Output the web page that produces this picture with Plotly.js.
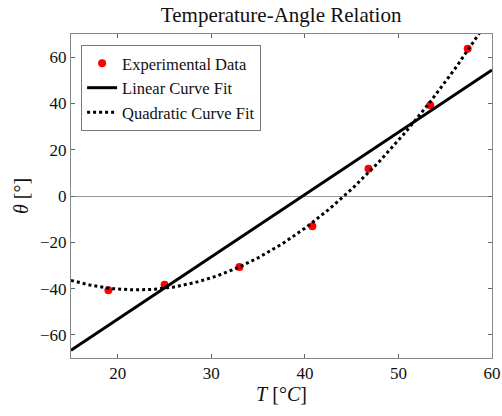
<!DOCTYPE html>
<html>
<head>
<meta charset="utf-8">
<script src="https://cdn.plot.ly/plotly-3.0.1.min.js"></script>
<style>html,body{margin:0;padding:0;background:#fff;}#chart{width:502px;height:416px;}</style>
</head>
<body>
<div id="chart"></div>
<script>
// Data
var tempC = [19.0, 25.0, 33.0, 40.8, 46.8, 53.4, 57.4];
var thetaDeg = [-40.7, -38.3, -30.7, -13.1, 11.8, 39.2, 63.6];
var xTicks = [20, 30, 40, 50, 60];
var yTicks = [-60, -40, -20, 0, 20, 40, 60];
var seriesNames = ['Experimental Data', 'Linear Curve Fit', 'Quadratic Curve Fit'];

// least-squares polynomial fit of the data
function polyfit(xs, ys, deg) {
  var n = deg + 1, A = [], b = [];
  for (var i = 0; i < n; i++) {
    A.push([]);
    for (var j = 0; j < n; j++) {
      var s = 0; for (var k = 0; k < xs.length; k++) s += Math.pow(xs[k], i + j);
      A[i].push(s);
    }
    var t = 0; for (var k2 = 0; k2 < xs.length; k2++) t += ys[k2] * Math.pow(xs[k2], i);
    b.push(t);
  }
  for (var p = 0; p < n; p++) {
    for (var r = p + 1; r < n; r++) {
      var f = A[r][p] / A[p][p];
      for (var c = p; c < n; c++) A[r][c] -= f * A[p][c];
      b[r] -= f * b[p];
    }
  }
  var coef = new Array(n);
  for (var q = n - 1; q >= 0; q--) {
    var s2 = b[q];
    for (var c2 = q + 1; c2 < n; c2++) s2 -= A[q][c2] * coef[c2];
    coef[q] = s2 / A[q][q];
  }
  return coef;
}
function evalPoly(coef, x) { var s = 0; for (var i = 0; i < coef.length; i++) s += coef[i] * Math.pow(x, i); return s; }

var lin = polyfit(tempC, thetaDeg, 1);
var quad = polyfit(tempC, thetaDeg, 2);
var fitX = [];
for (var x = 15; x <= 60.001; x += 0.25) fitX.push(x);
var linY = fitX.map(function (v) { return evalPoly(lin, v); });
var quadY = fitX.map(function (v) { return evalPoly(quad, v); });

var serif = '"Liberation Serif", "DejaVu Serif", serif';

var traces = [
  {x: tempC, y: thetaDeg, mode: 'markers', name: seriesNames[0], marker: {color: '#ff0000', size: 8}},
  {x: fitX, y: linY, mode: 'lines', name: seriesNames[1], line: {color: '#000', width: 3}},
  {x: fitX, y: quadY, mode: 'lines', name: seriesNames[2], line: {color: '#000', width: 3, dash: 'dot'}}
];

var layout = {
  width: 502, height: 416,
  margin: {l: 71, r: 10, t: 34, b: 58},
  paper_bgcolor: '#fff', plot_bgcolor: '#fff',
  font: {family: serif, color: '#111', size: 17},
  title: {text: 'Temperature-Angle Relation', x: 0.56, xanchor: 'center', y: 0.982, yanchor: 'top', font: {family: serif, size: 21, color: '#111'}},
  showlegend: true,
  legend: {x: 0.024, y: 0.966, xanchor: 'left', yanchor: 'top', bgcolor: '#fff', bordercolor: '#777', borderwidth: 1,
    font: {family: serif, size: 16.5, color: '#111'}, tracegroupgap: 0, itemwidth: 30},
  xaxis: {
    range: [15, 60], tickvals: xTicks, ticks: 'inside', ticklen: 4, tickcolor: '#666', mirror: 'ticks',
    showline: true, linecolor: '#888', linewidth: 1, showgrid: false, zeroline: false,
    tickfont: {family: serif, size: 17, color: '#111'},
    title: {text: '<i>T</i> [°<i>C</i>]', font: {family: serif, size: 20, color: '#111'}, standoff: 4}
  },
  yaxis: {
    range: [-70, 70], tickvals: yTicks, ticks: 'inside', ticklen: 4, tickcolor: '#666', mirror: 'ticks',
    showline: true, linecolor: '#888', linewidth: 1, showgrid: false,
    zeroline: true, zerolinecolor: '#999', zerolinewidth: 1,
    tickfont: {family: serif, size: 17, color: '#111'},
    title: {text: '<i>θ</i> [°]', font: {family: serif, size: 20, color: '#111'}, standoff: 6}
  }
};

Plotly.newPlot('chart', traces, layout, {displayModeBar: false, staticPlot: true});
</script>
</body>
</html>
